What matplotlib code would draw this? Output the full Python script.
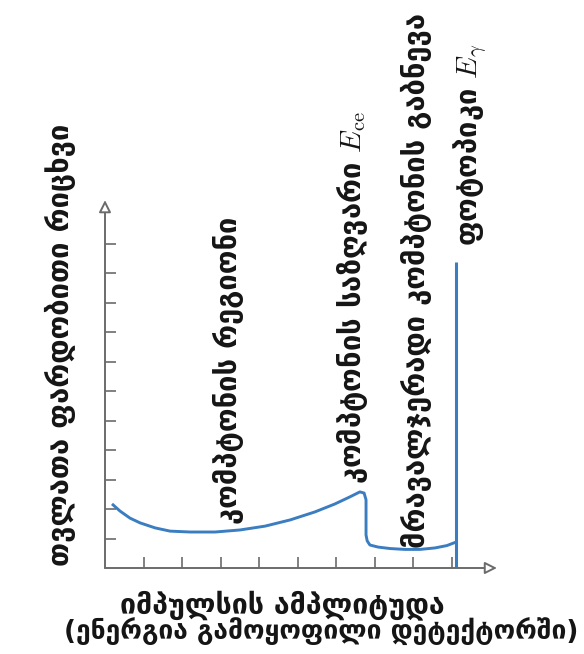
import matplotlib
matplotlib.use('Agg')
import matplotlib.pyplot as plt

plt.rcParams['font.family'] = ['DejaVu Sans']
plt.rcParams['mathtext.fontset'] = 'cm'

# spectrum outline: pulse height (tick units) vs relative counts (tick units)
spec_x = [0.21, 0.39, 0.65, 0.91, 1.30, 1.69, 2.21, 2.86, 3.51, 4.16, 4.81,
          5.45, 5.97, 6.36, 6.62, 6.73, 6.78, 6.78, 6.81, 6.88, 7.09, 7.40,
          7.79, 8.18, 8.57, 8.88, 9.12]
spec_y = [2.14, 1.93, 1.69, 1.53, 1.36, 1.25, 1.22, 1.22, 1.29, 1.42, 1.63,
          1.90, 2.17, 2.41, 2.58, 2.54, 2.31, 1.12, 0.92, 0.78, 0.71, 0.66,
          0.63, 0.63, 0.68, 0.76, 0.88]

# full-energy peak
peak_x = 9.12
peak_height = 10.37

y_ticks = [1, 2, 3, 4, 5, 6, 7, 8, 9, 10, 11]
x_ticks = [1, 2, 3, 4, 5, 6, 7, 8, 9]

ylabel = 'თვლათა ფარდობითი რიცხვი'
xlabel_1 = 'იმპულსის ამპლიტუდა'
xlabel_2 = '(ენერგია გამოყოფილი დეტექტორში)'
regions = {
    'compton': 'კომპტონის რეგიონი',
    'edge': r'კომპტონის საზღვარი $E_{\rm ce}$',
    'multi': 'მრავალჯერადი კომპტონის გაბნევა',
    'photo': r'ფოტოპიკი $E_\gamma$',
}

W, H = 584, 654
fig = plt.figure(figsize=(W / 100, H / 100), dpi=100)
ax = fig.add_axes([105 / W, (H - 568) / H, 400 / W, 373 / H])
ax.set_xlim(0, 400 / 38.5)
ax.set_ylim(0, 373 / 29.5)
for s in ax.spines.values():
    s.set_visible(False)

axis_col = '#6b6b6b'
blue = '#3a7dc0'

ax.set_xticks(x_ticks)
ax.set_yticks(y_ticks)
ax.tick_params(direction='in', length=8, width=1.2, color=axis_col,
               labelbottom=False, labelleft=False)

arrow = dict(arrowstyle='-|>', fc='white', ec=axis_col, lw=1.4,
             mutation_scale=18, shrinkA=0, shrinkB=0)
ax.annotate('', xy=(0, 12.47), xytext=(0, 0), arrowprops=arrow,
            annotation_clip=False)
ax.annotate('', xy=(10.18, 0), xytext=(0, 0), arrowprops=arrow,
            annotation_clip=False)

ax.plot(spec_x, spec_y, color=blue, lw=2.1, solid_joinstyle='round')
ax.vlines(peak_x, 0, peak_height, color=blue, lw=2.2)

txt = dict(rotation=90, ha='center', va='center', fontsize=21,
           fontweight='bold', color='#151515')


def px(x, y):
    return x / W, 1 - y / H


fig.text(*px(60, 345), ylabel, **txt)
fig.text(*px(228, 370), regions['compton'], **txt)
fig.text(*px(352, 298), regions['edge'], **txt)
fig.text(*px(416, 281), regions['multi'], **txt)
fig.text(*px(471, 145), regions['photo'], **txt)

lab = dict(ha='center', va='center', fontweight='bold', color='#151515')
fig.text(*px(282, 605), xlabel_1, fontsize=20.5, **lab)
fig.text(*px(321, 632), xlabel_2, fontsize=19, **lab)

fig.savefig('out.png', dpi=100, facecolor='white')
